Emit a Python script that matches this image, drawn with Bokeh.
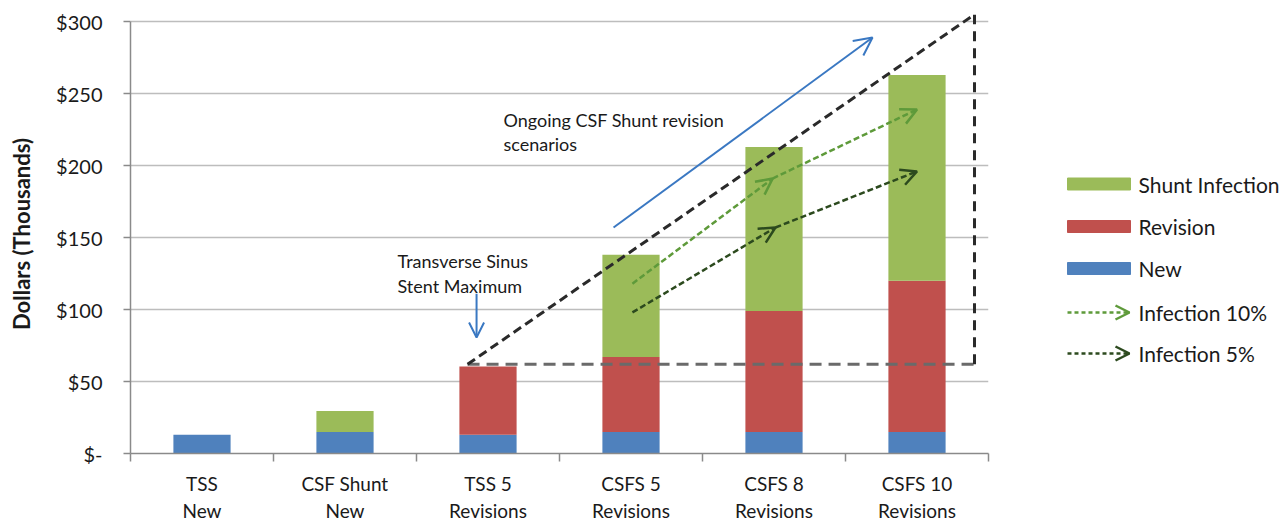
from bokeh.plotting import figure
from bokeh.models import Range1d, FixedTicker, Arrow, OpenHead, Label, ColumnDataSource
from bokeh.layouts import row
from bokeh.core.properties import value
from bokeh.embed import file_html
from bokeh.resources import INLINE

# ---------------- data ----------------
categories = ["TSS\nNew", "CSF Shunt\nNew", "TSS 5\nRevisions",
              "CSFS 5\nRevisions", "CSFS 8\nRevisions", "CSFS 10\nRevisions"]
new_cost = [13, 15, 13, 15, 15, 15]
revision_cost = [0, 0, 47.5, 52, 84, 105]
infection_cost = [0, 14.5, 0, 71, 114, 143]

series_names = ["Shunt Infection", "Revision", "New", "Infection 10%", "Infection 5%"]
y_ticks = [0, 50, 100, 150, 200, 250, 300]
y_tick_labels = ["$-", "$50", "$100", "$150", "$200", "$250", "$300"]

# annotation geometry (data units)
stent_max_level = 62
scenario_x = [2.357, 5.902]
scenario_top = 305
trend_arrow_x = [3.378, 5.189]
trend_arrow_y = [157, 289]
inf10_x = [3.51, 4.49, 5.50]
inf10_y = [118, 191, 239]
inf5_x = [3.51, 4.51, 5.50]
inf5_y = [98, 157, 196]
stent_arrow_x = 2.42
stent_arrow_y = [111, 80.6]
note1_lines = ["Transverse Sinus", "Stent Maximum"]
note1_pos = (1.867, [134, 116.7])
note2_lines = ["Ongoing CSF Shunt revision", "scenarios"]
note2_pos = (2.608, [232, 215.3])

# ---------------- styling ----------------
FONT = "Lato"
C_NEW = "#4F81BD"
C_REV = "#C0504D"
C_INF = "#9BBB59"
C_BLUE_ARROW = "#3A78C2"
C_INF10 = "#5E9A3A"
C_INF5 = "#2C4A1E"
TXT = "#1A1A1A"

FRAME_TOP, FRAME_H, FRAME_BOTTOM_BORDER = 14, 439, 68

xs = [i + 0.5 for i in range(len(categories))]
b_new = [0] * len(xs)
t_new = new_cost
b_rev = t_new
t_rev = [a + b for a, b in zip(t_new, revision_cost)]
b_inf = t_rev
t_inf = [a + b for a, b in zip(t_rev, infection_cost)]

src = ColumnDataSource(dict(x=xs, b_new=b_new, t_new=t_new, b_rev=b_rev, t_rev=t_rev,
                            b_inf=b_inf, t_inf=t_inf))

p = figure(frame_width=858, frame_height=FRAME_H,
           x_range=Range1d(0, 6), y_range=Range1d(0, 305),
           toolbar_location=None, output_backend="svg",
           min_border_left=130, min_border_right=4,
           min_border_top=FRAME_TOP, min_border_bottom=FRAME_BOTTOM_BORDER)
p.outline_line_color = None
p.background_fill_color = "white"
p.border_fill_color = "white"

# grid
p.xgrid.visible = False
p.ygrid.ticker = FixedTicker(ticks=y_ticks)
p.ygrid.grid_line_color = "#BDBDBD"
p.ygrid.grid_line_width = 1.5

# y axis
ya = p.yaxis[0]
ya.ticker = FixedTicker(ticks=y_ticks)
ya.major_label_overrides = {t: l for t, l in zip(y_ticks, y_tick_labels)}
ya.bounds = (0, 300)
ya.axis_line_color = "#8A8A8A"
ya.axis_line_width = 1.5
ya.major_tick_line_color = "#8A8A8A"
ya.major_tick_line_width = 1.5
ya.major_tick_in = 0
ya.major_tick_out = 7
ya.minor_tick_line_color = None
ya.major_label_standoff = 21
ya.major_label_text_font = FONT
ya.major_label_text_font_size = "20px"
ya.major_label_text_color = TXT
ya.axis_label = "Dollars (Thousands)"
ya.axis_label_text_font = FONT
ya.axis_label_text_font_size = "22px"
ya.axis_label_text_font_style = "bold"
ya.axis_label_text_color = TXT
ya.axis_label_standoff = 18

# x axis
xa = p.xaxis[0]
xa.ticker = FixedTicker(ticks=xs, minor_ticks=list(range(len(categories) + 1)))
xa.major_label_overrides = {x: c for x, c in zip(xs, categories)}
xa.axis_line_color = "#8A8A8A"
xa.axis_line_width = 1.5
xa.major_tick_line_color = None
xa.major_tick_in = 0
xa.major_tick_out = 0
xa.minor_tick_line_color = "#8A8A8A"
xa.minor_tick_line_width = 1.5
xa.minor_tick_in = 0
xa.minor_tick_out = 8
xa.major_label_standoff = 10
xa.major_label_text_font = FONT
xa.major_label_text_font_size = "19px"
xa.major_label_text_color = TXT
xa.major_label_text_line_height = 1.2

# bars
p.vbar(x="x", bottom="b_new", top="t_new", width=0.4, source=src, fill_color=C_NEW, line_color=None)
p.vbar(x="x", bottom="b_rev", top="t_rev", width=0.4, source=src, fill_color=C_REV, line_color=None)
p.vbar(x="x", bottom="b_inf", top="t_inf", width=0.4, source=src, fill_color=C_INF, line_color=None)

# scenario triangle
p.line(x=scenario_x, y=[stent_max_level, stent_max_level], line_color="#6A6A6A",
       line_width=3, line_dash="12 7")
p.line(x=scenario_x, y=[stent_max_level, scenario_top], line_color="#2A2A2A",
       line_width=3, line_dash="9 5")
p.line(x=[scenario_x[1], scenario_x[1]], y=[stent_max_level, scenario_top], line_color="#2A2A2A",
       line_width=3, line_dash="10 7")

# trend arrow (blue)
p.add_layout(Arrow(x_start=trend_arrow_x[0], y_start=trend_arrow_y[0],
                   x_end=trend_arrow_x[1], y_end=trend_arrow_y[1],
                   line_color=C_BLUE_ARROW, line_width=2,
                   end=OpenHead(size=18, line_color=C_BLUE_ARROW, line_width=2)))
# stent maximum arrow
p.add_layout(Arrow(x_start=stent_arrow_x, y_start=stent_arrow_y[0],
                   x_end=stent_arrow_x, y_end=stent_arrow_y[1],
                   line_color=C_BLUE_ARROW, line_width=2,
                   end=OpenHead(size=15, line_color=C_BLUE_ARROW, line_width=2)))

# infection scenario arrows
for px, py, col in [(inf10_x, inf10_y, C_INF10), (inf5_x, inf5_y, C_INF5)]:
    for i in range(len(px) - 1):
        p.add_layout(Arrow(x_start=px[i], y_start=py[i], x_end=px[i + 1], y_end=py[i + 1],
                           line_color=col, line_width=2.5, line_dash="6 3",
                           end=OpenHead(size=16, line_color=col, line_width=2.5)))

# notes
for (nx, nys), lines in [(note1_pos, note1_lines), (note2_pos, note2_lines)]:
    for ny, txt in zip(nys, lines):
        p.add_layout(Label(x=nx, y=ny, text=txt, text_font=FONT, text_font_size="18px",
                           text_color=TXT, text_baseline="alphabetic", text_align="left"))

# ---------------- legend figure (page-pixel coordinates) ----------------
LX0, LX1 = 992, 1284
lg = figure(frame_width=LX1 - LX0, frame_height=FRAME_H,
            x_range=Range1d(LX0, LX1), y_range=Range1d(FRAME_TOP + FRAME_H, FRAME_TOP),
            toolbar_location=None, output_backend="svg",
            min_border_left=0, min_border_right=0,
            min_border_top=FRAME_TOP, min_border_bottom=FRAME_BOTTOM_BORDER,
            x_axis_type=None, y_axis_type=None)
lg.outline_line_color = None
lg.xgrid.visible = False
lg.ygrid.visible = False

row_y = [183.5, 226, 268, 312, 353]
sw_left, sw_right, sw_h = 1067, 1130, 12
box_colors = [C_INF, C_REV, C_NEW]
lg.quad(left=[sw_left] * 3, right=[sw_right] * 3,
        top=[y - sw_h / 2 for y in row_y[:3]], bottom=[y + sw_h / 2 for y in row_y[:3]],
        fill_color=box_colors, line_color=box_colors)
for y, col in zip(row_y[3:], [C_INF10, C_INF5]):
    lg.add_layout(Arrow(x_start=sw_left, y_start=y, x_end=sw_right - 1, y_end=y,
                        line_color=col, line_width=2.5, line_dash="4 3",
                        end=OpenHead(size=14, line_color=col, line_width=2.5)))
lg.text(x=[1138] * len(series_names), y=row_y, text=series_names,
        text_font=value(FONT), text_font_size="21px", text_color=TXT,
        text_baseline="middle", text_align="left")

layout = row(p, lg)
open("out.html", "w").write(file_html(layout, INLINE))
